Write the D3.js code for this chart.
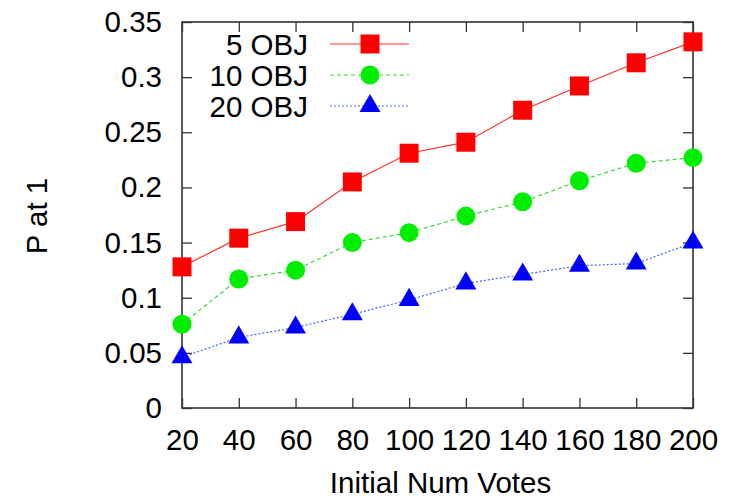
<!DOCTYPE html>
<html>
<head>
<meta charset="utf-8">
<script src="https://cdn.jsdelivr.net/npm/d3@7"></script>
<style>
  body { margin: 0; background: #fff; }
  text { font-family: "Liberation Sans", Arial, sans-serif; fill: #000; }
</style>
</head>
<body>
<div id="chart"></div>
<script>
// chart data
const votes = [20, 40, 60, 80, 100, 120, 140, 160, 180, 200];
const obj5 = [0.128, 0.154, 0.169, 0.205, 0.231, 0.241, 0.270, 0.292, 0.313, 0.332];
const obj10 = [0.076, 0.117, 0.125, 0.150, 0.159, 0.174, 0.187, 0.206, 0.222, 0.227];
const obj20 = [0.046, 0.064, 0.073, 0.085, 0.098, 0.113, 0.121, 0.129, 0.131, 0.150];
const yTicks = [0, 0.05, 0.1, 0.15, 0.2, 0.25, 0.3, 0.35];
const seriesNames = ["5 OBJ", "10 OBJ", "20 OBJ"];

const W = 729, H = 499;
const margin = {left: 182, right: 36, top: 22, bottom: 91};
const fontSize = "29.5px";

const svg = d3.select("#chart").append("svg")
    .attr("width", W)
    .attr("height", H);

const x = d3.scaleLinear().domain([20, 200]).range([margin.left, W - margin.right]);
const y = d3.scaleLinear().domain([0, 0.35]).range([H - margin.bottom, margin.top]);

const series = [
  {name: seriesNames[0], values: obj5, color: "#ff0000", line: "#ff3030", dash: null, shape: d3.symbolSquare},
  {name: seriesNames[1], values: obj10, color: "#00ee00", line: "#33dd33", dash: "4,3", shape: d3.symbolCircle},
  {name: seriesNames[2], values: obj20, color: "#0000ff", line: "#4466ff", dash: "2,2", shape: d3.symbolTriangle}
];

// symbol sizes (area) tuned to look like gnuplot points
function symbolSize(shape) {
  if (shape === d3.symbolSquare) return 19 * 19;
  if (shape === d3.symbolCircle) return Math.PI * 9.5 * 9.5;
  return 190;
}

const tickLen = 10;
const axisColor = "#333";

// ticks on all four sides, pointing in
const axLeft = d3.axisLeft(y).tickValues(yTicks).tickSizeInner(-tickLen).tickSizeOuter(0).tickPadding(20)
    .tickFormat(d => d === 0 ? "0" : d3.format("")(+d.toFixed(2)));
const axRight = d3.axisRight(y).tickValues(yTicks).tickSizeInner(-tickLen).tickSizeOuter(0).tickFormat("");
const axBottom = d3.axisBottom(x).tickValues(votes).tickSizeInner(-tickLen).tickSizeOuter(0).tickPadding(21);
const axTop = d3.axisTop(x).tickValues(votes).tickSizeInner(-tickLen).tickSizeOuter(0).tickFormat("");

function styleAxis(g) {
  g.select(".domain").remove();
  g.selectAll("line").attr("stroke", axisColor).attr("stroke-width", 1.3);
  g.selectAll("text").style("font-size", fontSize).attr("fill", "#000")
    .style("font-family", "'Liberation Sans', Arial, sans-serif");
}

svg.append("g").attr("transform", `translate(${margin.left},0)`).call(axLeft).call(styleAxis);
svg.append("g").attr("transform", `translate(${W - margin.right},0)`).call(axRight).call(styleAxis);
svg.append("g").attr("transform", `translate(0,${H - margin.bottom})`).call(axBottom).call(styleAxis);
svg.append("g").attr("transform", `translate(0,${margin.top})`).call(axTop).call(styleAxis);

// frame
svg.append("rect")
    .attr("x", margin.left)
    .attr("y", margin.top)
    .attr("width", W - margin.right - margin.left)
    .attr("height", H - margin.bottom - margin.top)
    .attr("fill", "none")
    .attr("stroke", axisColor)
    .attr("stroke-width", 1.6);

const line = d3.line()
    .x((d, i) => x(votes[i]))
    .y(d => y(d));

series.forEach(s => {
  svg.append("path")
      .datum(s.values)
      .attr("fill", "none")
      .attr("stroke", s.line)
      .attr("stroke-width", 1.2)
      .attr("stroke-dasharray", s.dash)
      .attr("d", line);
});

series.forEach(s => {
  svg.append("g").selectAll("path")
      .data(s.values)
      .enter()
      .append("path")
      .attr("d", d3.symbol().type(s.shape).size(symbolSize(s.shape)))
      .attr("transform", (d, i) => `translate(${x(votes[i])},${y(d)})`)
      .attr("fill", s.color);
});

// legend
const legend = svg.append("g");
series.forEach((s, i) => {
  const ly = 44 + i * 31;
  legend.append("text")
      .attr("x", 308)
      .attr("y", ly)
      .attr("dy", "0.36em")
      .attr("text-anchor", "end")
      .style("font-size", fontSize)
      .text(s.name);
  legend.append("line")
      .attr("x1", 330).attr("x2", 409)
      .attr("y1", ly).attr("y2", ly)
      .attr("stroke", s.line)
      .attr("stroke-width", 1.2)
      .attr("stroke-dasharray", s.dash);
  legend.append("path")
      .attr("d", d3.symbol().type(s.shape).size(symbolSize(s.shape)))
      .attr("transform", `translate(370,${ly})`)
      .attr("fill", s.color);
});

// axis titles
svg.append("text")
    .attr("x", (margin.left + W - margin.right) / 2 + 3)
    .attr("y", 493)
    .attr("text-anchor", "middle")
    .style("font-size", fontSize)
    .text("Initial Num Votes");

svg.append("text")
    .attr("transform", `translate(47,216) rotate(-90)`)
    .attr("text-anchor", "middle")
    .style("font-size", fontSize)
    .text("P at 1");
</script>
</body>
</html>
